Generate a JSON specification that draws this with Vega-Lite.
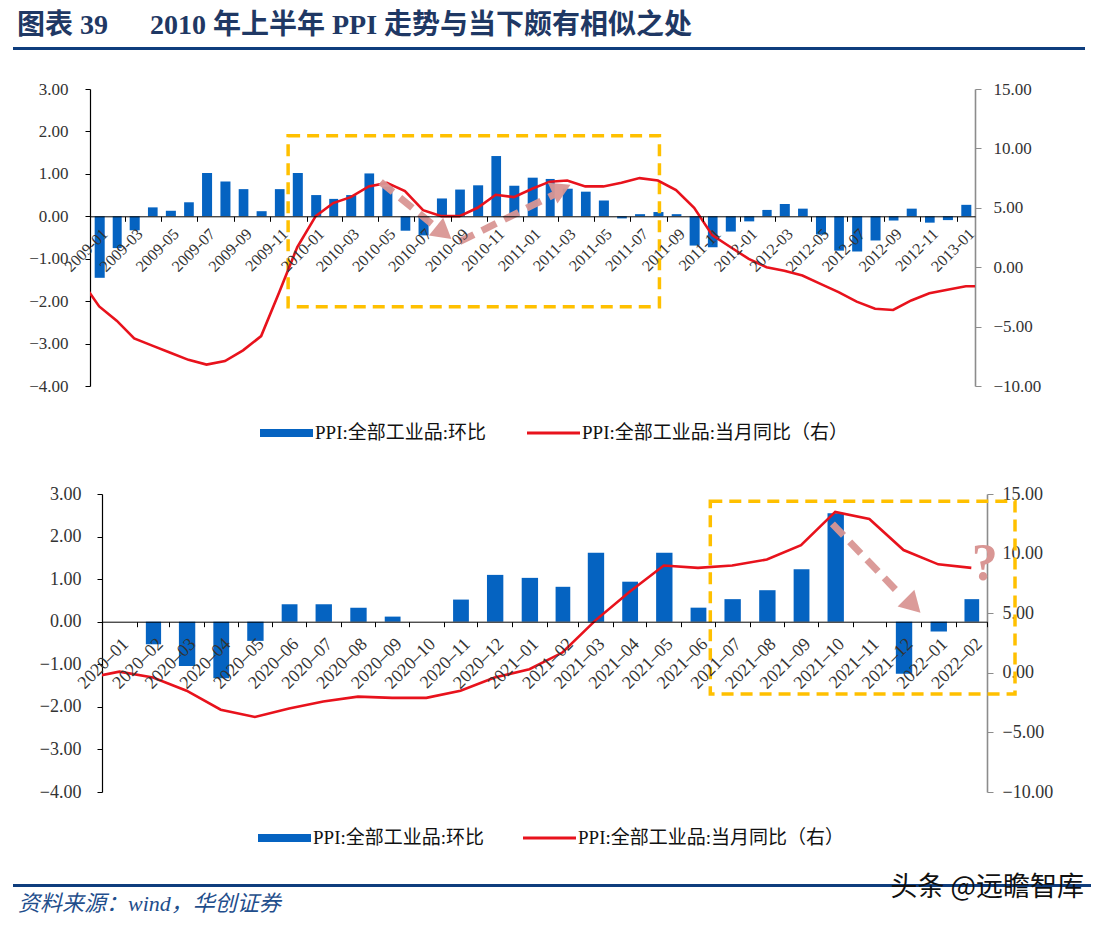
{
  "$schema": "https://vega.github.io/schema/vega-lite/v6.json",
  "padding": {"left": 13, "top": 12, "right": 5, "bottom": 5},
  "background": "white",
  "config": {
    "view": {"stroke": null},
    "font": "Liberation Serif"
  },
  "datasets": {
    "top_bars": [
      {"m": "2009-01", "v": -1.45}, {"m": "2009-02", "v": -0.75}, {"m": "2009-03", "v": -0.33},
      {"m": "2009-04", "v": 0.21}, {"m": "2009-05", "v": 0.13}, {"m": "2009-06", "v": 0.33},
      {"m": "2009-07", "v": 1.02}, {"m": "2009-08", "v": 0.82}, {"m": "2009-09", "v": 0.64},
      {"m": "2009-10", "v": 0.12}, {"m": "2009-11", "v": 0.64}, {"m": "2009-12", "v": 1.02},
      {"m": "2010-01", "v": 0.5}, {"m": "2010-02", "v": 0.41}, {"m": "2010-03", "v": 0.5},
      {"m": "2010-04", "v": 1.01}, {"m": "2010-05", "v": 0.7}, {"m": "2010-06", "v": -0.34},
      {"m": "2010-07", "v": -0.45}, {"m": "2010-08", "v": 0.42}, {"m": "2010-09", "v": 0.63},
      {"m": "2010-10", "v": 0.73}, {"m": "2010-11", "v": 1.42}, {"m": "2010-12", "v": 0.72},
      {"m": "2011-01", "v": 0.91}, {"m": "2011-02", "v": 0.88}, {"m": "2011-03", "v": 0.65},
      {"m": "2011-04", "v": 0.58}, {"m": "2011-05", "v": 0.37}, {"m": "2011-06", "v": -0.05},
      {"m": "2011-07", "v": 0.05}, {"m": "2011-08", "v": 0.1}, {"m": "2011-09", "v": 0.05},
      {"m": "2011-10", "v": -0.69}, {"m": "2011-11", "v": -0.73}, {"m": "2011-12", "v": -0.36},
      {"m": "2012-01", "v": -0.12}, {"m": "2012-02", "v": 0.15}, {"m": "2012-03", "v": 0.29},
      {"m": "2012-04", "v": 0.18}, {"m": "2012-05", "v": -0.43}, {"m": "2012-06", "v": -0.81},
      {"m": "2012-07", "v": -0.83}, {"m": "2012-08", "v": -0.57}, {"m": "2012-09", "v": -0.1},
      {"m": "2012-10", "v": 0.18}, {"m": "2012-11", "v": -0.15}, {"m": "2012-12", "v": -0.09},
      {"m": "2013-01", "v": 0.27}
    ],
    "top_line": [
      {"m": "2008-12", "v": -1.1}, {"m": "2009-01", "v": -3.3}, {"m": "2009-02", "v": -4.5},
      {"m": "2009-03", "v": -6.0}, {"m": "2009-04", "v": -6.6}, {"m": "2009-05", "v": -7.2},
      {"m": "2009-06", "v": -7.8}, {"m": "2009-07", "v": -8.2}, {"m": "2009-08", "v": -7.9},
      {"m": "2009-09", "v": -7.0}, {"m": "2009-10", "v": -5.8}, {"m": "2009-11", "v": -2.1},
      {"m": "2009-12", "v": 1.7}, {"m": "2010-01", "v": 4.3}, {"m": "2010-02", "v": 5.4},
      {"m": "2010-03", "v": 5.9}, {"m": "2010-04", "v": 6.8}, {"m": "2010-05", "v": 7.1},
      {"m": "2010-06", "v": 6.4}, {"m": "2010-07", "v": 4.8}, {"m": "2010-08", "v": 4.3},
      {"m": "2010-09", "v": 4.3}, {"m": "2010-10", "v": 5.0}, {"m": "2010-11", "v": 6.1},
      {"m": "2010-12", "v": 5.9}, {"m": "2011-01", "v": 6.6}, {"m": "2011-02", "v": 7.2},
      {"m": "2011-03", "v": 7.3}, {"m": "2011-04", "v": 6.8}, {"m": "2011-05", "v": 6.8},
      {"m": "2011-06", "v": 7.1}, {"m": "2011-07", "v": 7.5}, {"m": "2011-08", "v": 7.3},
      {"m": "2011-09", "v": 6.5}, {"m": "2011-10", "v": 5.0}, {"m": "2011-11", "v": 2.7},
      {"m": "2011-12", "v": 1.7}, {"m": "2012-01", "v": 0.7}, {"m": "2012-02", "v": 0.0},
      {"m": "2012-03", "v": -0.3}, {"m": "2012-04", "v": -0.7}, {"m": "2012-05", "v": -1.4},
      {"m": "2012-06", "v": -2.1}, {"m": "2012-07", "v": -2.9}, {"m": "2012-08", "v": -3.5},
      {"m": "2012-09", "v": -3.6}, {"m": "2012-10", "v": -2.8}, {"m": "2012-11", "v": -2.2},
      {"m": "2012-12", "v": -1.9}, {"m": "2013-01", "v": -1.6}, {"m": "2013-02", "v": -1.6}
    ],
    "bottom_bars": [
      {"m": "2020-01", "v": 0}, {"m": "2020-02", "v": -0.53}, {"m": "2020-03", "v": -1.04},
      {"m": "2020-04", "v": -1.33}, {"m": "2020-05", "v": -0.45}, {"m": "2020-06", "v": 0.41},
      {"m": "2020-07", "v": 0.41}, {"m": "2020-08", "v": 0.33}, {"m": "2020-09", "v": 0.12},
      {"m": "2020-10", "v": 0}, {"m": "2020-11", "v": 0.52}, {"m": "2020-12", "v": 1.1},
      {"m": "2021-01", "v": 1.03}, {"m": "2021-02", "v": 0.82}, {"m": "2021-03", "v": 1.62},
      {"m": "2021-04", "v": 0.94}, {"m": "2021-05", "v": 1.62}, {"m": "2021-06", "v": 0.33},
      {"m": "2021-07", "v": 0.53}, {"m": "2021-08", "v": 0.74}, {"m": "2021-09", "v": 1.23},
      {"m": "2021-10", "v": 2.55}, {"m": "2021-11", "v": 0}, {"m": "2021-12", "v": -1.22},
      {"m": "2022-01", "v": -0.23}, {"m": "2022-02", "v": 0.53}
    ],
    "bottom_line": [
      {"m": "2019-12", "v": -0.5}, {"m": "2020-01", "v": 0.1}, {"m": "2020-02", "v": -0.4},
      {"m": "2020-03", "v": -1.5}, {"m": "2020-04", "v": -3.1}, {"m": "2020-05", "v": -3.7},
      {"m": "2020-06", "v": -3.0}, {"m": "2020-07", "v": -2.4}, {"m": "2020-08", "v": -2.0},
      {"m": "2020-09", "v": -2.1}, {"m": "2020-10", "v": -2.1}, {"m": "2020-11", "v": -1.5},
      {"m": "2020-12", "v": -0.4}, {"m": "2021-01", "v": 0.3}, {"m": "2021-02", "v": 1.7},
      {"m": "2021-03", "v": 4.4}, {"m": "2021-04", "v": 6.8}, {"m": "2021-05", "v": 9.0},
      {"m": "2021-06", "v": 8.8}, {"m": "2021-07", "v": 9.0}, {"m": "2021-08", "v": 9.5},
      {"m": "2021-09", "v": 10.7}, {"m": "2021-10", "v": 13.5}, {"m": "2021-11", "v": 12.9},
      {"m": "2021-12", "v": 10.3}, {"m": "2022-01", "v": 9.1}, {"m": "2022-02", "v": 8.8}
    ],
    "top_box": [{"x1": "2009-12-01", "x2": "2011-08-19", "y1": 1.9, "y2": -2.13}],
    "top_arrows": [
      {"seg": "a", "d": "2010-05-06", "v": 0.81}, {"seg": "a", "d": "2010-08-04", "v": -0.22},
      {"seg": "b", "d": "2010-09-16", "v": -0.6}, {"seg": "b", "d": "2011-02-22", "v": 0.51}
    ],
    "top_head1": [{"d": "2010-08-16", "v": -0.34}],
    "top_head2": [{"d": "2011-03-02", "v": 0.61}],
    "bottom_box": [{"x1": "2021-06-27", "x2": "2022-03-26", "y1": 2.83, "y2": -1.7}],
    "bottom_arrow": [
      {"seg": "c", "d": "2021-10-14", "v": 2.3}, {"seg": "c", "d": "2021-12-12", "v": 0.68}
    ],
    "bottom_head": [{"d": "2021-12-23", "v": 0.44}],
    "bottom_q": [{"d": "2022-02-27", "v": 1.36, "t": "?"}]
  },
  "title": {
    "text": "头条 @远瞻智库",
    "orient": "bottom",
    "anchor": "end",
    "offset": -40,
    "dx": -7,
    "font": "Noto Sans CJK SC",
    "fontSize": 27,
    "fontWeight": "normal",
    "color": "#111111"
  },
  "columns": 1,
  "bounds": "full",
  "spacing": 30,
  "resolve": {"scale": {"color": "independent"}, "legend": {"color": "independent"}},
  "concat": [
    {
      "width": 1072,
      "height": 3,
      "data": {"values": []},
      "mark": {"type": "point", "opacity": 0},
      "encoding": {},
      "view": {"fill": "#0e3d7d", "stroke": null},
      "title": {
        "text": "图表 39  　 2010 年上半年 PPI 走势与当下颇有相似之处",
        "anchor": "start",
        "orient": "top",
        "offset": 7,
        "dx": 4,
        "font": "Liberation Serif, Noto Sans CJK SC",
        "fontSize": 28,
        "fontWeight": "bold",
        "color": "#1f3864"
      }
    },
    {
      "spacing": 14,
      "resolve": {"scale": {"color": "independent"}, "legend": {"color": "independent"}},
      "hconcat": [
        {
          "width": 1,
          "height": 1,
          "data": {"values": []},
          "mark": {"type": "point", "opacity": 0},
          "encoding": {}
        },
        {
          "width": 885,
          "height": 297,
          "resolve": {"scale": {"y": "independent"}},
          "layer": [
            {
              "data": {"name": "top_bars"},
              "mark": {"type": "bar", "width": {"band": 0.6}},
              "encoding": {
                "x": {
                  "field": "m", "type": "temporal", "timeUnit": "utcyearmonth", "title": null,
                  "scale": {"type": "utc", "nice": false, "padding": 0,
                    "domain": [{"year": 2009, "month": 1, "date": 1, "utc": true}, {"year": 2013, "month": 2, "date": 1, "utc": true}]},
                  "axis": {
                    "orient": "bottom", "offset": -169.7, "format": "%Y-%m",
                    "tickCount": {"interval": "month", "step": 2},
                    "labelAngle": -45, "labelOffset": 9, "labelPadding": 4,
                    "labelFont": "Liberation Serif", "labelFontSize": 16, "labelColor": "#333333",
                    "labelOverlap": false, "labelFlush": false, "labelBound": false,
                    "domainColor": "#000000", "tickColor": "#000000", "tickSize": 5,
                    "grid": false, "title": null, "zindex": 1
                  }
                },
                "y": {
                  "field": "v", "type": "quantitative",
                  "scale": {"domain": [-4, 3], "nice": false},
                  "axis": {
                    "orient": "left", "values": [-4, -3, -2, -1, 0, 1, 2, 3], "format": ".2f", "title": null,
                    "grid": false, "domainColor": "#000000", "domainWidth": 1.2,
                    "tickColor": "#000000", "tickSize": 5,
                    "labelFont": "Liberation Serif", "labelFontSize": 17, "labelColor": "#333333", "labelPadding": 17
                  }
                },
                "color": {
                  "datum": "PPI:全部工业品:环比", "type": "nominal",
                  "scale": {"domain": ["PPI:全部工业品:环比", "PPI:全部工业品:当月同比（右）"], "range": ["#0563c1", "#e8121c"]},
                  "legend": {
                    "orient": "none", "legendX": 158, "legendY": 322,
                    "direction": "horizontal", "title": null, "padding": 12,
                    "labelFont": "Liberation Serif, Noto Sans CJK SC", "labelFontSize": 19, "labelColor": "#111111",
                    "labelLimit": 500, "labelOffset": 35, "symbolSize": 400, "columnPadding": 40, "symbolStrokeWidth": 0,
                    "encode": {
                      "symbols": {
                        "update": {
                          "shape": {"signal": "datum.value === 'PPI:全部工业品:环比' ? 'M-1,-0.4H4.3V0.4H-1Z' : 'M-1,-0.15H4.3V0.15H-1Z'"},
                          "fill": {"signal": "datum.value === 'PPI:全部工业品:环比' ? '#0563c1' : '#e8121c'"},
                          "stroke": {"value": "transparent"},
                          "opacity": {"value": 1}
                        }
                      }
                    }
                  }
                }
              }
            },
            {
              "data": {"name": "top_box"},
              "mark": {"type": "rect", "fill": "transparent", "stroke": "#ffc000", "strokeWidth": 3.5, "strokeDash": [12, 7]},
              "encoding": {
                "x": {"field": "x1", "type": "temporal", "title": null, "scale": {"type": "utc"}},
                "x2": {"field": "x2"},
                "y": {"field": "y1", "type": "quantitative", "scale": {"domain": [-4, 3], "nice": false}, "axis": null},
                "y2": {"field": "y2"}
              }
            },
            {
              "data": {"name": "top_line"},
              "mark": {"type": "line", "clip": true, "strokeWidth": 2.6},
              "encoding": {
                "x": {"field": "m", "type": "temporal", "timeUnit": "utcyearmonth", "bandPosition": 0.5, "title": null},
                "y": {
                  "field": "v", "type": "quantitative",
                  "scale": {"domain": [-10, 15], "nice": false},
                  "axis": {
                    "orient": "right", "values": [-10, -5, 0, 5, 10, 15], "format": ".2f", "title": null,
                    "grid": false, "domainColor": "#8c8c8c", "domainWidth": 1.6,
                    "tickColor": "#8c8c8c", "tickSize": 6,
                    "labelFont": "Liberation Serif", "labelFontSize": 17, "labelColor": "#333333", "labelPadding": 12
                  }
                },
                "color": {"datum": "PPI:全部工业品:当月同比（右）", "type": "nominal"}
              }
            },
            {
              "data": {"name": "top_arrows"},
              "mark": {"type": "line", "stroke": "#d99694", "strokeWidth": 7, "strokeDash": [16, 9], "strokeCap": "butt", "opacity": 0.95},
              "encoding": {
                "x": {"field": "d", "type": "temporal", "title": null, "scale": {"type": "utc"}},
                "y": {"field": "v", "type": "quantitative", "scale": {"domain": [-4, 3], "nice": false}, "axis": null},
                "detail": {"field": "seg"}
              }
            },
            {
              "data": {"name": "top_head1"},
              "mark": {"type": "point", "shape": "triangle", "filled": true, "color": "#d99694", "opacity": 0.95, "size": 520, "angle": 129},
              "encoding": {
                "x": {"field": "d", "type": "temporal", "title": null, "scale": {"type": "utc"}},
                "y": {"field": "v", "type": "quantitative", "scale": {"domain": [-4, 3], "nice": false}, "axis": null}
              }
            },
            {
              "data": {"name": "top_head2"},
              "mark": {"type": "point", "shape": "triangle", "filled": true, "color": "#d99694", "opacity": 0.95, "size": 520, "angle": 65},
              "encoding": {
                "x": {"field": "d", "type": "temporal", "title": null, "scale": {"type": "utc"}},
                "y": {"field": "v", "type": "quantitative", "scale": {"domain": [-4, 3], "nice": false}, "axis": null}
              }
            }
          ]
        }
      ]
    },
    {
      "spacing": 25,
      "resolve": {"scale": {"color": "independent"}, "legend": {"color": "independent"}},
      "hconcat": [
        {
          "width": 1,
          "height": 1,
          "data": {"values": []},
          "mark": {"type": "point", "opacity": 0},
          "encoding": {}
        },
        {
          "width": 885,
          "height": 298,
          "resolve": {"scale": {"y": "independent"}},
          "layer": [
            {
              "data": {"name": "bottom_bars"},
              "mark": {"type": "bar", "width": {"band": 0.5}},
              "encoding": {
                "x": {
                  "field": "m", "type": "temporal", "timeUnit": "utcyearmonth", "title": null,
                  "scale": {"type": "utc", "nice": false, "padding": 0,
                    "domain": [{"year": 2020, "month": 1, "date": 1, "utc": true}, {"year": 2022, "month": 3, "date": 1, "utc": true}]},
                  "axis": {
                    "orient": "bottom", "offset": -170.3, "format": "%Y–%m",
                    "tickCount": {"interval": "month", "step": 1},
                    "labelExpr": "utcyear(datum.value) === 2022 && utcmonth(datum.value) === 2 ? '' : datum.label",
                    "labelAngle": -45, "labelOffset": 17, "labelPadding": 8,
                    "labelFont": "Liberation Serif", "labelFontSize": 18, "labelColor": "#333333",
                    "labelOverlap": false, "labelFlush": false, "labelBound": false,
                    "domainColor": "#000000", "tickColor": "#000000", "tickSize": 5,
                    "grid": false, "title": null, "zindex": 1
                  }
                },
                "y": {
                  "field": "v", "type": "quantitative",
                  "scale": {"domain": [-4, 3], "nice": false},
                  "axis": {
                    "orient": "left", "values": [-4, -3, -2, -1, 0, 1, 2, 3], "format": ".2f", "title": null,
                    "grid": false, "domainColor": "#000000", "domainWidth": 1.2,
                    "tickColor": "#000000", "tickSize": 5,
                    "labelFont": "Liberation Serif", "labelFontSize": 18, "labelColor": "#333333", "labelPadding": 16
                  }
                },
                "color": {
                  "datum": "PPI:全部工业品:环比", "type": "nominal",
                  "scale": {"domain": ["PPI:全部工业品:环比", "PPI:全部工业品:当月同比（右）"], "range": ["#0563c1", "#e8121c"]},
                  "legend": {
                    "orient": "none", "legendX": 150, "legendY": 328,
                    "direction": "horizontal", "title": null, "padding": 6,
                    "labelFont": "Liberation Serif, Noto Sans CJK SC", "labelFontSize": 19, "labelColor": "#111111",
                    "labelLimit": 500, "labelOffset": 35, "symbolSize": 400, "columnPadding": 38, "symbolStrokeWidth": 0,
                    "encode": {
                      "symbols": {
                        "update": {
                          "shape": {"signal": "datum.value === 'PPI:全部工业品:环比' ? 'M-1,-0.4H4.3V0.4H-1Z' : 'M-1,-0.15H4.3V0.15H-1Z'"},
                          "fill": {"signal": "datum.value === 'PPI:全部工业品:环比' ? '#0563c1' : '#e8121c'"},
                          "stroke": {"value": "transparent"},
                          "opacity": {"value": 1}
                        }
                      }
                    }
                  }
                }
              }
            },
            {
              "data": {"name": "bottom_box"},
              "mark": {"type": "rect", "fill": "transparent", "stroke": "#ffc000", "strokeWidth": 3.5, "strokeDash": [12, 7]},
              "encoding": {
                "x": {"field": "x1", "type": "temporal", "title": null, "scale": {"type": "utc"}},
                "x2": {"field": "x2"},
                "y": {"field": "y1", "type": "quantitative", "scale": {"domain": [-4, 3], "nice": false}, "axis": null},
                "y2": {"field": "y2"}
              }
            },
            {
              "data": {"name": "bottom_line"},
              "mark": {"type": "line", "clip": true, "strokeWidth": 2.6},
              "encoding": {
                "x": {"field": "m", "type": "temporal", "timeUnit": "utcyearmonth", "bandPosition": 0.5, "title": null},
                "y": {
                  "field": "v", "type": "quantitative",
                  "scale": {"domain": [-10, 15], "nice": false},
                  "axis": {
                    "orient": "right", "values": [-10, -5, 0, 5, 10, 15], "format": ".2f", "title": null,
                    "grid": false, "domainColor": "#8c8c8c", "domainWidth": 1.6,
                    "tickColor": "#8c8c8c", "tickSize": 6,
                    "labelFont": "Liberation Serif", "labelFontSize": 18, "labelColor": "#333333", "labelPadding": 9
                  }
                },
                "color": {"datum": "PPI:全部工业品:当月同比（右）", "type": "nominal"}
              }
            },
            {
              "data": {"name": "bottom_arrow"},
              "mark": {"type": "line", "stroke": "#d99694", "strokeWidth": 7, "strokeDash": [16, 9], "strokeCap": "butt", "opacity": 0.95},
              "encoding": {
                "x": {"field": "d", "type": "temporal", "title": null, "scale": {"type": "utc"}},
                "y": {"field": "v", "type": "quantitative", "scale": {"domain": [-4, 3], "nice": false}, "axis": null},
                "detail": {"field": "seg"}
              }
            },
            {
              "data": {"name": "bottom_head"},
              "mark": {"type": "point", "shape": "triangle", "filled": true, "color": "#d99694", "opacity": 0.95, "size": 560, "angle": 135},
              "encoding": {
                "x": {"field": "d", "type": "temporal", "title": null, "scale": {"type": "utc"}},
                "y": {"field": "v", "type": "quantitative", "scale": {"domain": [-4, 3], "nice": false}, "axis": null}
              }
            },
            {
              "data": {"name": "bottom_q"},
              "mark": {"type": "text", "font": "Liberation Serif", "fontSize": 52, "fontWeight": "bold", "color": "#d99694", "baseline": "middle", "align": "center"},
              "encoding": {
                "x": {"field": "d", "type": "temporal", "title": null, "scale": {"type": "utc"}},
                "y": {"field": "v", "type": "quantitative", "scale": {"domain": [-4, 3], "nice": false}, "axis": null},
                "text": {"field": "t"}
              }
            }
          ]
        }
      ]
    },
    {
      "width": 1078,
      "height": 3,
      "data": {"values": []},
      "mark": {"type": "point", "opacity": 0},
      "encoding": {},
      "view": {"fill": "#0e3d7d", "stroke": null},
      "title": {
        "text": "资料来源：wind，华创证券",
        "anchor": "start",
        "orient": "bottom",
        "offset": 7,
        "dx": 5,
        "font": "Liberation Serif, Noto Sans CJK SC",
        "fontSize": 22,
        "fontStyle": "italic",
        "fontWeight": "normal",
        "color": "#1f4e8c"
      }
    }
  ]
}
